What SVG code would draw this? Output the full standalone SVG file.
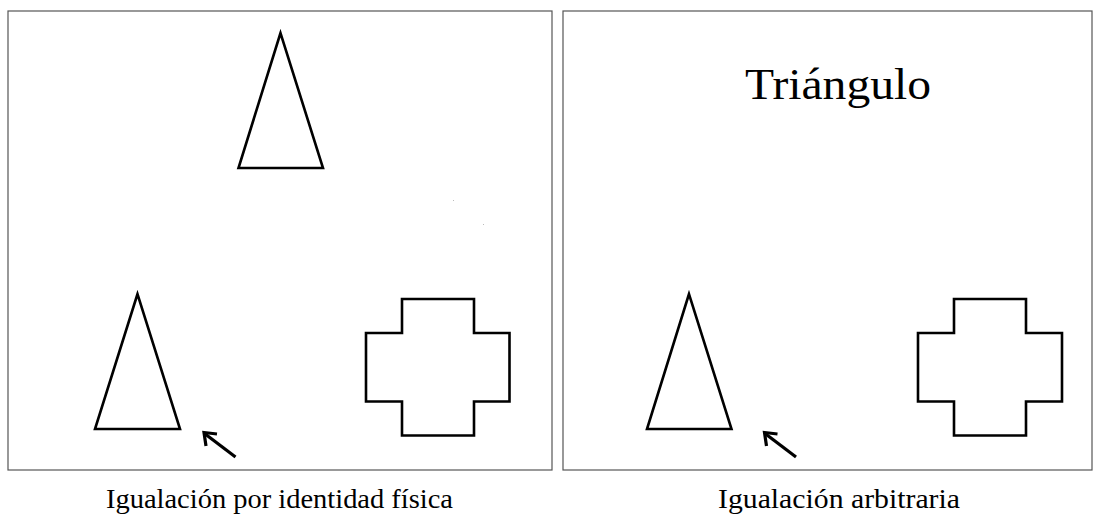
<svg xmlns="http://www.w3.org/2000/svg" width="1099" height="516" viewBox="0 0 1099 516">
<style>
.panel{fill:#fff;stroke:#555;stroke-width:1.2}
.shape{fill:none;stroke:#000;stroke-width:2.6;stroke-linejoin:miter}
.arrow{fill:none;stroke:#000;stroke-width:3.2;stroke-linecap:butt;stroke-linejoin:miter}
.cap{font-family:"Liberation Serif","Times New Roman",serif;fill:#000}
</style>
<rect width="1099" height="516" fill="#fff"/>
<g id="panel-left">
<rect class="panel" x="8" y="11" width="544" height="459"/>
<rect x="453" y="200" width="1" height="1" fill="#bbb"/>
<rect x="483" y="224" width="1" height="1" fill="#bbb"/>
</g>
<g id="panel-right">
<rect class="panel" x="563" y="11" width="529" height="459"/>
</g>
<g id="sample-triangle">
<polygon class="shape" points="280.5,33 238.5,168 323,168"/>
</g>
<g id="left-triangle">
<polygon class="shape" points="137.5,294 95,429 180,429"/>
</g>
<g id="left-cross">
<polygon class="shape" points="402,299 474,299 474,333 509.5,333 509.5,401.5 474,401.5 474,435.5 402,435.5 402,401.5 366,401.5 366,333 402,333"/>
</g>
<g id="right-label">
<text class="cap" x="745" y="99" font-size="44" textLength="186" lengthAdjust="spacingAndGlyphs">Triángulo</text>
</g>
<g id="right-triangle">
<polygon class="shape" points="689,294 647,429 731.5,429"/>
</g>
<g id="right-cross">
<polygon class="shape" points="954,299 1026,299 1026,333 1062,333 1062,401.5 1026,401.5 1026,435.5 954,435.5 954,401.5 918,401.5 918,333 954,333"/>
</g>
<g id="connectors">
<line class="arrow" x1="235.5" y1="457" x2="204.5" y2="433.5"/>
<polyline class="arrow" points="217,434 204,432.5 206,446"/>
<line class="arrow" x1="796" y1="457" x2="765" y2="433.5"/>
<polyline class="arrow" points="777.5,434 764.5,432.5 766.5,446"/>
</g>
<g id="captions">
<text class="cap" x="106" y="508" font-size="27" textLength="347" lengthAdjust="spacingAndGlyphs">Igualación por identidad física</text>
<text class="cap" x="718" y="508" font-size="27" textLength="242" lengthAdjust="spacingAndGlyphs">Igualación arbitraria</text>
</g>
</svg>
